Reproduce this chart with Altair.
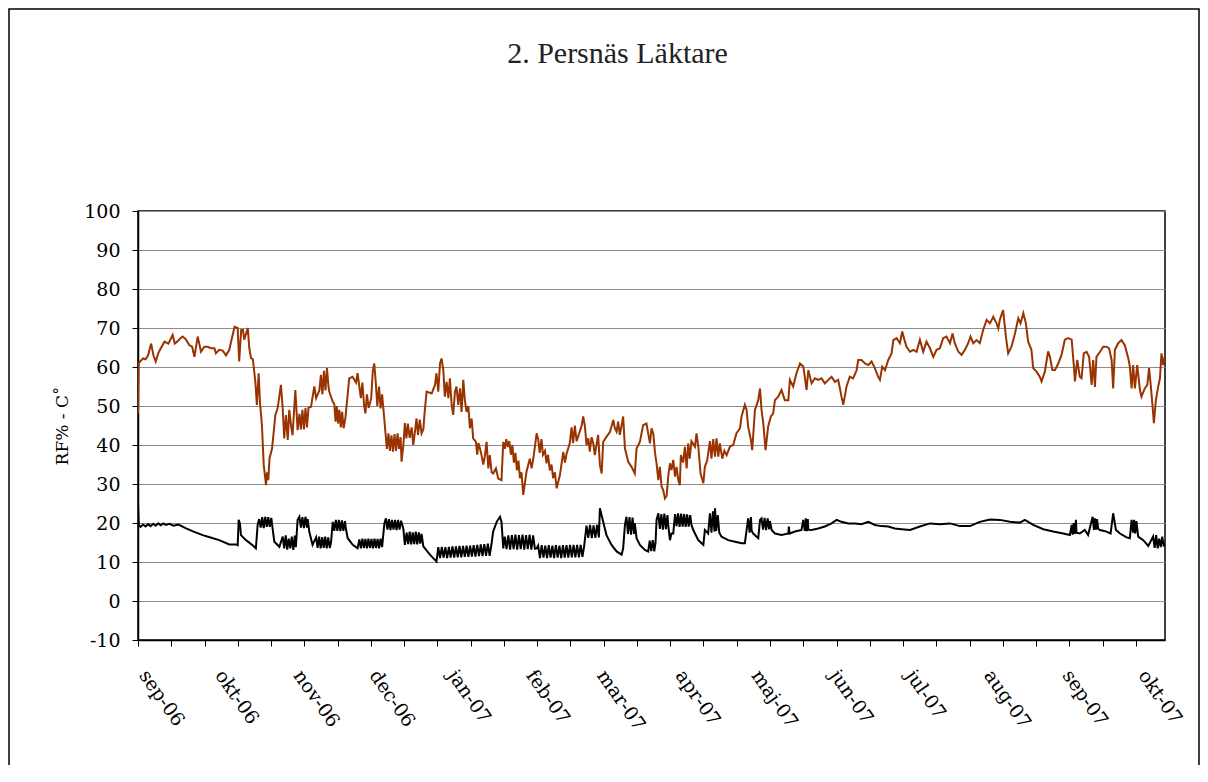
import altair as alt
import pandas as pd
from datetime import datetime, timedelta

# ---------------- data (day offsets from 2006-09-01) -------------
START = datetime(2006, 9, 1)
END_DAY = 406

rh_day = [
    0, 0.3, 1, 2, 3, 4, 5.2, 6.1, 7, 8, 9, 10.5, 12, 13.7, 14.5, 15.5, 16.5, 17.6, 18.8, 20.3,
    21.4, 22.3, 23.6, 24.9, 26.2, 27.5, 28.9, 30.2, 30.8, 32.1, 33.5, 34.8, 36.1, 37.4, 38.2, 39.4, 40, 40.8, 41.5, 42,
    43.4, 44, 44.7, 45.4, 46.4, 47, 47.7, 48.2, 49, 49.7, 50.6, 51, 51.5, 52, 53, 54.3, 55.2, 56.5, 57.2, 57.8,
    58.5, 59.2, 59.8, 60.5, 61.1, 62.2, 63.1, 63.8, 64.4, 65, 65.6, 66.2, 66.8, 67.4, 68.4, 69.7, 70.4, 71.7, 72.3, 72.9,
    73.5, 74.1, 74.7, 75.3, 75.6, 77, 77.6, 78.1, 78.6, 79.1, 79.6, 80.2, 80.7, 81.3, 82, 83.5, 84.8, 86.2, 86.8, 87.5,
    88.1, 88.7, 89.4, 89.9, 90.5, 91.2, 92.2, 92.8, 93.4, 94, 94.6, 95.3, 95.9, 96.5, 97, 97.8, 98.4, 99, 99.6, 100.2,
    100.8, 101.4, 102, 102.6, 103.2, 103.8, 104.2, 104.9, 105.5, 106.1, 106.7, 107.4, 108.2, 108.8, 109.5, 110.1, 110.7, 111.4, 112.1, 112.8,
    113.4, 114.1, 116.1, 117.4, 118, 118.7, 119.4, 120, 120.7, 121.3, 122, 122.7, 123.3, 124, 124.6, 125.3, 125.9, 126.6, 127.3, 127.9,
    128.6, 129.2, 129.9, 130.6, 131.2, 131.9, 132.5, 133.6, 134.1, 134.6, 135.2, 135.8, 136.5, 137.1, 137.8, 138.5, 139.1, 139.8, 140.4, 141.5,
    142.4, 143.7, 144.4, 145, 145.6, 146.2, 146.8, 147.4, 148, 148.6, 149.2, 149.8, 150.4, 151, 151.6, 152.3, 153.6, 154.9, 155.6, 156.3,
    157.6, 158.2, 158.8, 159.5, 160.1, 160.9, 161.5, 162.1, 162.8, 163.5, 164.1, 164.8, 165.5, 166.8, 168.1, 168.8, 169.4, 170.7, 171.4, 172,
    172.7, 173.4, 175.4, 176, 176.7, 177.3, 178, 178.6, 179.3, 180, 180.6, 181.9, 182.6, 183.3, 183.9, 185.2, 186.6, 187.9, 188.5, 189.2,
    189.8, 190.5, 191.8, 192.5, 193.8, 195.1, 196.4, 197.1, 198.4, 199.7, 201, 202.4, 203, 203.7, 204.4, 205, 205.7, 206.3, 207, 207.6,
    208.3, 209, 209.6, 210.3, 210.9, 211.6, 212.3, 212.9, 213.6, 214.2, 214.6, 215.5, 216.2, 216.9, 217.5, 218.1, 218.8, 220.2, 220.8, 221.5,
    222.4, 223.5, 224.1, 225, 226.1, 226.7, 227.4, 228.1, 228.7, 229.4, 230, 231, 231.8, 232.7, 234, 235.3, 236.6, 238, 238.6, 239.9,
    240.6, 241.2, 242.3, 242.8, 243.9, 245.2, 245.9, 246.5, 247.2, 248.1, 249.1, 250.2, 251.1, 251.8, 253.1, 254.4, 255.7, 257.1, 257.7, 259,
    260.3, 261.7, 263, 263.6, 264.3, 265, 266.3, 267.6, 268.9, 270.2, 271.5, 272.9, 274.2, 275.5, 276.8, 277.5, 278.1, 278.8, 279.5, 280.1,
    281.4, 282.7, 284.1, 284.7, 286, 287.4, 288.7, 290, 291.3, 292.6, 293.3, 294.2, 295.3, 296.6, 297.9, 298.6, 299.9, 301.2, 302.1, 303.2,
    303.8, 305.2, 306.5, 307.8, 309.1, 310.4, 311.7, 313.1, 314.4, 315.7, 317, 318.3, 319.6, 321, 322, 322.9, 324.3, 325.6, 326.9, 328.2,
    329.1, 330.2, 331.5, 332.8, 334.1, 335.5, 336.8, 338.1, 339.4, 340.1, 340.7, 342, 343.1, 344, 345.3, 346.7, 348, 348.9, 350, 351,
    351.9, 353.2, 353.9, 355.2, 356.5, 357.2, 358.5, 359.8, 360.5, 361.5, 362.5, 363.8, 365.1, 366.4, 367.7, 369.1, 370, 370.4, 371.3, 372.3,
    373, 373.9, 375, 376, 377, 377.6, 378.3, 378.9, 380.3, 381.6, 382.9, 383.9, 384.9, 385.5, 386.2, 387.5, 388.8, 390.1, 391.5, 392.1,
    392.8, 393.4, 394.1, 395, 396.1, 396.7, 398, 399, 399.7, 400.3, 401.1, 401.6, 402.4, 403.3, 404, 404.6, 405.3, 406,
]
rh_pct = [
    48, 61, 61.5, 62.2, 62, 63, 66, 63, 61.4, 63.5, 64.8, 66.5, 66, 68.2, 66, 66.5, 67.2, 67.8, 67.2, 65.6,
    65.2, 62.6, 67.8, 63.9, 65.2, 65.2, 64.8, 64.8, 63.5, 64.4, 64.2, 63, 64.4, 68.2, 70.3, 70, 61.4, 69.5, 69.5, 67,
    70, 64.8, 62.2, 62, 56.2, 50.3, 58.4, 51.1, 45, 34.9, 29.7, 33, 31, 36.6, 39.1, 47.7, 49.4, 55.4, 49.4, 41.7,
    47.7, 41.3, 49, 45, 42.5, 54.1, 43.8, 48, 44, 49, 44, 49.5, 44.5, 49.5, 49.8, 55, 52, 54, 58, 53,
    59, 54, 59.7, 55, 53.7, 51.1, 50.5, 46, 50, 45.5, 49, 44.5, 48.5, 44.3, 47, 57.1, 57.5, 56, 58.4, 55,
    52, 56, 50, 48.1, 53, 49.5, 52, 58.8, 60.9, 56, 50, 55, 49.4, 53, 49.4, 43.4, 39, 43, 38.5, 42.5,
    38.3, 42.8, 38.5, 43, 39, 42, 35.7, 40, 45.6, 41.7, 45.5, 41.8, 44.5, 40, 43.5, 46.8, 42.6, 46.5, 43, 44,
    49, 53.7, 53.2, 55.4, 58.4, 53.7, 60.9, 62.2, 59.2, 52.4, 56.2, 52, 57.1, 50.3, 47.7, 53.7, 55, 50.3, 54.5, 48.5,
    56.7, 51.5, 48.5, 50, 44.3, 46.8, 41.7, 40.8, 37.5, 40.5, 39.1, 37.4, 35, 37, 40.8, 34, 37.4, 33, 32.7, 34,
    31.4, 31, 40.8, 39, 41.5, 39.5, 41, 37.5, 40, 35.5, 38, 33.5, 36, 31.5, 33, 27.2, 33.2, 36.5, 34, 36.6,
    43, 41.5, 38, 41.5, 37.5, 38.5, 35.3, 37.5, 33.5, 35, 31.5, 33, 28.9, 32.3, 38.2, 35.5, 37.7, 40.5, 44.5, 40.5,
    45, 41, 45, 47.3, 44.7, 40, 41.7, 38.3, 42, 40.4, 37.4, 42.6, 34.9, 32.7, 40.8, 42.1, 43.4, 46.4, 44.3, 43.4,
    46, 42.6, 47.3, 39.1, 35.7, 34.4, 32.7, 39.1, 40.8, 45.1, 45.5, 40.4, 44.3, 43, 37.9, 35.3, 31, 34.4, 29.3, 28.5,
    26.3, 27, 31.9, 35.3, 33.6, 36.2, 31.9, 34.4, 31, 29.7, 37.4, 35.5, 39.5, 34, 40.4, 36.5, 41, 39.6, 43, 39.6,
    32.7, 30.2, 34.4, 36, 41, 36.5, 41.5, 37, 41.7, 37, 40.4, 36.5, 38.5, 37.4, 39.6, 40, 43, 44.3, 47.3, 50.3,
    49, 44.7, 41.3, 38.7, 49, 51.5, 54.5, 49, 45.5, 38.7, 44.7, 47.3, 48.1, 51.5, 52.4, 54.1, 51.5, 51.5, 56.7, 55,
    58.4, 60.9, 60.1, 57.5, 54.1, 59.2, 55.8, 57.1, 56.7, 57.1, 55.8, 56.7, 57.5, 56.2, 56.7, 54.5, 52.4, 50.3, 52.8, 55,
    57.5, 57.1, 59.2, 61.8, 61.8, 60.9, 60.5, 61.4, 59.7, 57.5, 56.7, 60.1, 59.2, 61.8, 63.5, 66.9, 67.4, 66.1, 69.1, 66.5,
    65.2, 63.9, 64.4, 63.9, 67, 63.9, 66.5, 64.8, 62.6, 64.4, 64.8, 67.4, 67.8, 66.1, 68.6, 66.1, 63.9, 63.1, 64.4, 66.1,
    67.8, 66.1, 66.9, 66.1, 69.5, 72.1, 71.2, 72.9, 71.2, 69.9, 72.1, 74.6, 67.8, 63.5, 65.2, 68.6, 72.5, 71.2, 73.8, 71.2,
    66.5, 64.4, 59.7, 58.8, 57.5, 56.3, 58.8, 64, 62.6, 59.2, 59.2, 60.9, 63.1, 67, 67.4, 67, 60.1, 56.3, 61.8, 57.5,
    57.1, 63.5, 63.9, 62.6, 55.4, 61.8, 54.9, 62.6, 63.9, 65.2, 65.2, 64.8, 61.8, 54.5, 64.4, 66.1, 66.9, 65.6, 62.2, 60.1,
    54.5, 60.5, 54.5, 60.5, 54.1, 52.4, 54.5, 55.4, 59.7, 55.8, 49.8, 45.6, 51.5, 54.9, 57.1, 63.5, 60.5, 63,
]

temp_day = [
    0, 0.3, 1, 2, 3, 4, 5, 6, 7, 8, 9, 10, 11, 12.4, 14, 16, 19, 22, 25.6, 28,
    32.1, 36.1, 38.7, 39.4, 39.8, 40.3, 40.7, 42.7, 45.3, 46.6, 47.3, 47.9, 48.5, 49.1, 49.7, 50.3, 50.9, 51.5, 52.1, 52.7,
    53.2, 53.9, 55.9, 57.2, 57.8, 58.4, 59, 59.6, 60.2, 60.8, 61.4, 62, 62.4, 63.1, 63.8, 64.4, 65, 65.6, 66.2, 66.8,
    67.1, 67.7, 69, 70.4, 71, 71.6, 72.2, 72.8, 73.4, 74, 74.6, 75.2, 75.8, 76.3, 77, 77.6, 78.2, 78.8, 79.4, 80,
    80.6, 81.2, 81.8, 82.2, 82.9, 84.9, 86.8, 87.5, 88.1, 88.7, 89.3, 89.9, 90.5, 91.1, 91.7, 92.3, 92.9, 93.5, 94.1, 94.7,
    95.3, 95.9, 96.5, 97.4, 98, 98.6, 99.2, 99.8, 100.4, 101, 101.6, 102.2, 102.8, 103.4, 104, 104.9, 105.5, 106.2, 106.8, 107.4,
    108, 108.6, 109.2, 109.8, 110.4, 111, 111.6, 112.1, 112.8, 115.4, 118, 118.7, 119.4, 120.1, 120.8, 121.5, 122.2, 122.9, 123.6, 124.3,
    125, 125.7, 126.4, 127.1, 127.8, 128.5, 129.2, 129.9, 130.6, 131.3, 132, 132.7, 133.4, 134.1, 134.8, 135.5, 136.2, 136.9, 137.6, 138.3,
    139, 139.8, 140.4, 141.8, 143.1, 143.7, 144.4, 145, 145.7, 146.4, 147.1, 147.8, 148.5, 149.2, 149.9, 150.6, 151.3, 152, 152.7, 153.4,
    154.1, 154.8, 155.5, 156.2, 156.9, 157.6, 158.2, 158.9, 159.6, 160.3, 161, 161.7, 162.4, 163.1, 163.8, 164.5, 165.2, 165.9, 166.6, 167.3,
    168, 168.7, 169.4, 170.1, 170.8, 171.5, 172.2, 172.9, 173.6, 174.3, 175, 175.7, 176.4, 177.3, 178, 178.7, 179.4, 180.1, 180.8, 181.5,
    182.2, 182.6, 183.9, 185.2, 187.2, 189.2, 191.2, 191.8, 192.5, 193.1, 193.7, 194.3, 194.9, 195.5, 196.1, 196.4, 197.1, 198.4, 200.4, 201.7,
    202.3, 202.9, 203.5, 204.1, 204.6, 205, 205.7, 206.3, 206.9, 207.5, 208.1, 208.7, 209.3, 209.6, 210.3, 210.9, 211.6, 212.3, 212.9, 213.5,
    214.1, 214.7, 215.3, 215.9, 216.5, 217.1, 217.7, 218.3, 218.8, 219.5, 221.5, 223.5, 224.1, 225.4, 226.1, 226.7, 227.3, 227.9, 228.1, 228.6,
    229.2, 229.8, 230.7, 233.3, 236, 238.6, 239.9, 240.6, 241.2, 241.8, 242.3, 242.6, 243.2, 245.2, 245.9, 246.5, 247.1, 247.7, 248.3, 248.9,
    249.5, 249.8, 250.5, 251.8, 254.4, 257.1, 257.3, 257.6, 259.7, 262.3, 263, 263.6, 264, 264.4, 264.8, 265, 266.3, 268.9, 271.5, 274.2,
    276.2, 278.1, 280.8, 283.4, 286, 288.7, 291.3, 293.9, 296.6, 299.2, 301.9, 305.2, 309.1, 313.1, 317, 321, 324.9, 328.9, 332.8, 336.8,
    340.7, 344.7, 348.6, 350.6, 353.9, 357.9, 361.8, 365.8, 368.4, 369.1, 369.5, 369.9, 370.3, 370.8, 371, 372.3, 374.3, 375.6, 377.4, 377.9,
    378.3, 378.7, 379.1, 379.6, 380.3, 382.9, 384.5, 385.5, 386.6, 388.2, 390.8, 392.1, 392.8, 393.4, 393.8, 394.2, 394.7, 395.4, 397.4, 399.4,
    401.3, 401.9, 402.5, 403.1, 403.7, 404.3, 404.9, 405.5, 406,
]
temp_c = [
    25, 19.5, 19, 19.6, 19.1, 19.7, 19.2, 19.8, 19.3, 19.9, 19.4, 19.9, 19.5, 19.8, 19.3, 19.6, 18.6, 17.8, 16.9, 16.4,
    15.6, 14.5, 14.5, 14.3, 20.8, 19.9, 16.9, 15.6, 14.3, 13.5, 19.5, 21, 18.8, 21.5, 18.7, 21.6, 19, 21.5, 19, 21.3,
    18.6, 15.2, 13.9, 16.5, 13.5, 16.8, 13.2, 16, 13.5, 16.5, 13.1, 16.8, 13.8, 20.8, 21.6, 18.8, 21.5, 18.7, 21.6, 18.8,
    21, 17.8, 14.4, 16.3, 13.6, 16.5, 13.5, 16.4, 13.6, 16.5, 13.5, 16.3, 13.6, 15, 20.3, 18, 20.8, 18, 20.8, 17.9,
    20.7, 18, 20.5, 18.5, 16.1, 14.4, 13.5, 15.8, 13.5, 16, 13.6, 15.9, 13.5, 16, 13.6, 15.9, 13.5, 16, 13.6, 15.9,
    13.5, 16, 13.8, 19.9, 21.2, 18.3, 21, 18.2, 20.8, 18.3, 20.8, 18.2, 20.8, 18.3, 20.6, 18.5, 14.4, 17.5, 14.6, 17.8,
    14.5, 17.6, 14.6, 17.8, 14.5, 17.6, 14.7, 17.2, 14, 11.9, 10.1, 13.8, 11, 13.9, 11.1, 13.8, 11, 13.9, 11.1, 14,
    11.1, 14, 11.2, 14.1, 11.2, 14.1, 11.3, 14.2, 11.3, 14.2, 11.4, 14.3, 11.4, 14.4, 11.5, 14.5, 11.5, 14.6, 11.6, 14.7,
    11.6, 14.8, 17.8, 20.3, 21.6, 20.3, 13.5, 16.5, 13.3, 16.8, 13.2, 16.9, 13.3, 17, 13.2, 16.9, 13.3, 17, 13.2, 16.9,
    13.3, 17, 13.2, 16.8, 13.4, 13.5, 14.2, 11, 14.3, 11.1, 14.2, 11, 14.3, 11.1, 14.2, 11, 14.3, 11.1, 14.2, 11,
    14.3, 11.1, 14.3, 11.1, 14.4, 11.2, 14.4, 11.2, 14.4, 11.2, 14.4, 11.3, 14.2, 19.3, 16.2, 19.5, 16.1, 19.4, 16.2, 19.5,
    16.3, 23.8, 20.3, 16.9, 14.4, 12.7, 11.9, 13.5, 19.5, 21.6, 17.2, 21.5, 17, 21.4, 17.2, 20, 16.1, 14.4, 13.1, 12.7,
    15.5, 12.8, 15.6, 12.7, 15, 20.8, 22.5, 18.5, 22.3, 18.3, 22.4, 18.4, 22, 19.5, 15.6, 17.3, 17.3, 22.3, 19.2, 22.5,
    19, 22.4, 19.1, 22.3, 19, 22.2, 19.1, 22, 19.5, 18.2, 15.6, 14.4, 18.2, 17.3, 22.5, 17.5, 23, 17.8, 23.8, 18,
    22, 17.5, 16.5, 15.6, 15.2, 14.8, 14.8, 18.2, 21.2, 17.5, 21.5, 18, 17.3, 16.1, 20.8, 21.2, 18.3, 21.3, 18.2, 21.2,
    18.4, 20.5, 18.2, 17.3, 16.9, 17.3, 19.1, 17.3, 17.8, 18.2, 20.8, 18, 21.2, 17.9, 21, 18.3, 18.2, 18.6, 19.1, 19.9,
    20.8, 20.3, 19.9, 19.9, 19.7, 20.3, 19.5, 19.2, 19.1, 18.6, 18.4, 18.2, 19.1, 19.9, 19.7, 19.9, 19.2, 19.2, 20.3, 20.9,
    20.8, 20.3, 20.1, 20.8, 19.5, 18.4, 17.8, 17.3, 16.9, 19.5, 17, 20, 17.2, 20.8, 17.5, 17.3, 18.2, 16.9, 21.6, 18.2,
    21.2, 18.3, 21, 18.5, 18.2, 17.8, 17.3, 22.5, 18.2, 17.3, 16.3, 16.1, 20.8, 17.5, 20.8, 17.3, 20.5, 16.5, 15.6, 14.1,
    16.5, 13.6, 16.9, 13.5, 16, 13.8, 16.5, 14, 15,
]

month_names = ["jan", "feb", "mar", "apr", "maj", "jun", "jul", "aug", "sep", "okt", "nov", "dec"]
label_months = [(2006, m) for m in range(9, 13)] + [(2007, m) for m in range(1, 11)]
y_ticks = list(range(-10, 101, 10))
TICK_STEP_DAYS = 13.15

# ---------------- build tables ----------------
n = min(len(rh_day), len(rh_pct))
rh_df = pd.DataFrame({"date": [START + timedelta(days=d) for d in rh_day[:n]], "value": rh_pct[:n]})
m = min(len(temp_day), len(temp_c))
t_df = pd.DataFrame({"date": [START + timedelta(days=d) for d in temp_day[:m]], "value": temp_c[:m]})


def dt(t):
    return alt.DateTime(year=t.year, month=t.month, date=t.day, hours=t.hour, minutes=t.minute)


end = START + timedelta(days=END_DAY)
x_domain = [dt(START), dt(end)]
tick_vals = []
k = 0
while k * TICK_STEP_DAYS <= END_DAY:
    tick_vals.append(dt(START + timedelta(days=k * TICK_STEP_DAYS)))
    k += 1
label_vals = [alt.DateTime(year=y, month=mo, date=1) for y, mo in label_months]

FONT = "DejaVu Serif"
x_scale = alt.Scale(domain=x_domain)
y_scale = alt.Scale(domain=[-10, 100], nice=False, zero=False)

ticks_axis = alt.Axis(values=tick_vals, labels=False, ticks=True, tickSize=6, tickColor="black",
                      tickWidth=1, domain=True, domainColor="black", domainWidth=1.5,
                      grid=False, title=None, orient="bottom")
label_expr = ("['" + "','".join(month_names) + "'][month(datum.value)] + '-' + timeFormat(datum.value, '%y')")
labels_axis = alt.Axis(values=label_vals, labels=True, ticks=False, tickSize=0, domain=False, grid=False,
                       title=None, orient="bottom", labelExpr=label_expr, labelAngle=55, labelAlign="left",
                       labelBaseline="alphabetic", labelPadding=35, labelFont=FONT, labelFontSize=19,
                       labelColor="black", labelOverlap=False, labelFlush=False, labelBound=False)


def y_axis():
    return alt.Axis(values=y_ticks, title="RF% - C˚", titleFont=FONT, titleFontSize=17,
                    titleFontWeight="normal", titleColor="black", titlePadding=12,
                    labelFont=FONT, labelFontSize=19, labelColor="black", labelPadding=12,
                    labelExpr="'' + datum.value",
                    tickSize=6, tickColor="black", domainColor="black", domainWidth=1.5,
                    grid=True, gridColor="#8c8c8c", gridWidth=1, orient="left")


rh_line = alt.Chart(rh_df).mark_line(color="#993300", strokeWidth=2, clip=True).encode(
    x=alt.X("date:T", scale=x_scale, axis=ticks_axis),
    y=alt.Y("value:Q", scale=y_scale, axis=y_axis()),
)
t_line = alt.Chart(t_df).mark_line(color="black", strokeWidth=2, clip=True).encode(
    x=alt.X("date:T", scale=x_scale, axis=labels_axis),
    y=alt.Y("value:Q", scale=y_scale, axis=y_axis()),
)
frame = alt.Chart(pd.DataFrame({"k": [0]})).mark_rect(fillOpacity=0, stroke="black", strokeWidth=1.5).encode(
    x=alt.value(-129), x2=alt.value(1061), y=alt.value(-202), y2=alt.value(620)
)

chart = (
    alt.layer(rh_line, t_line, frame)
    .resolve_axis(x="independent", y="shared")
    .properties(
        width=1027,
        height=429,
        autosize=alt.AutoSizeParams(type="none"),
        padding={"left": 130, "top": 203, "right": 35, "bottom": 125},
        background="white",
        title=alt.TitleParams("2. Persnäs Läktare", font="Liberation Serif", fontSize=30,
                              fontWeight="normal", color="#222222", anchor="middle", dx=-34,
                              offset=-61, frame="group"),
    )
    .configure_view(stroke="black", strokeWidth=1.5)
)

chart.save("out.html", embed_options={"renderer": "svg", "actions": False})
